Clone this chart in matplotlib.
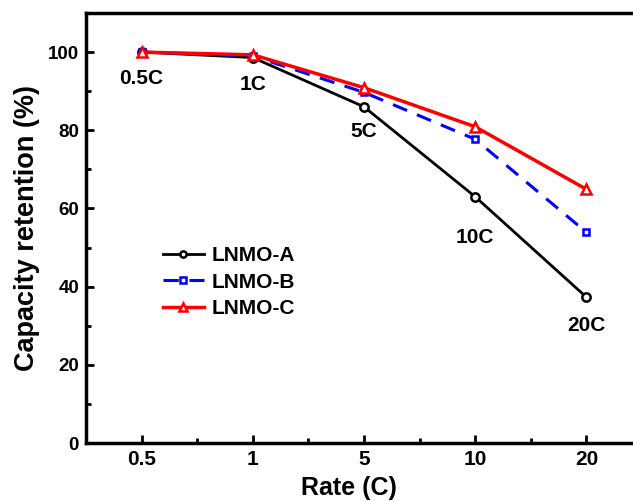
import matplotlib
matplotlib.use("Agg")
import matplotlib.pyplot as plt
from matplotlib.ticker import FixedLocator

rates = ["0.5", "1", "5", "10", "20"]
rate_labels = ["0.5C", "1C", "5C", "10C", "20C"]
lnmo_a = [100.0, 98.6, 86.0, 63.0, 37.3]
lnmo_b = [100.0, 99.0, 89.7, 77.7, 53.9]
lnmo_c = [100.0, 99.3, 90.9, 80.9, 64.9]

plt.rcParams['font.family'] = ['Liberation Sans', 'DejaVu Sans']
plt.rcParams['font.weight'] = 'bold'

fig = plt.figure(figsize=(6.33, 5.01), dpi=100)
ax = fig.add_axes([86/633, 58/501, (642-86)/633, (443-13)/501])

x = list(range(len(rates)))
ax.plot(x, lnmo_a, color='black', lw=2, marker='o', ms=6, mfc='white', mec='black', mew=1.8, label='LNMO-A', zorder=3)
ax.plot(x, lnmo_b, color='blue', lw=2.2, ls=(0, (5, 3.5)), marker='s', ms=5, mfc='white', mec='blue', mew=1.8, label='LNMO-B', zorder=3)
ax.plot(x, lnmo_c, color='red', lw=2.5, marker='^', ms=7, mfc='white', mec='red', mew=1.8, label='LNMO-C', zorder=4)

offsets = [-26, -27, -25, -41, -28]
for xi, lab, ya, off in zip(x, rate_labels, lnmo_a, offsets):
    ax.annotate(lab, (xi, ya), xytext=(0, off), textcoords='offset pixels',
                ha='center', va='center', fontsize=15, fontweight='bold')

ax.set_xlim(-0.5, 4.5)
ax.set_ylim(0, 110)
ax.set_xticks(x)
ax.set_xticklabels(rates)
ax.xaxis.set_minor_locator(FixedLocator([0.5, 1.5, 2.5, 3.5]))
ax.yaxis.set_major_locator(FixedLocator([0, 20, 40, 60, 80, 100]))
ax.yaxis.set_minor_locator(FixedLocator([10, 30, 50, 70, 90]))

for lbl in ax.get_xticklabels():
    lbl.set_fontsize(15)
    lbl.set_fontweight('bold')
for lbl in ax.get_yticklabels():
    lbl.set_fontsize(13.5)
    lbl.set_fontweight('bold')

ax.tick_params(which='both', direction='in', width=2)
ax.tick_params(which='major', length=6, pad=5)
ax.tick_params(which='minor', length=3.5)
ax.tick_params(axis='both', which='both', top=False, right=False)

for s in ['left', 'bottom', 'top']:
    ax.spines[s].set_linewidth(2.5)
ax.spines['right'].set_visible(False)

ax.set_xlabel('Rate (C)', fontsize=18, fontweight='bold', labelpad=5)
ax.xaxis.label.set_x(0.473)
ax.set_ylabel('Capacity retention (%)', fontsize=19.5, fontweight='bold', labelpad=6)

leg = ax.legend(loc='upper left', bbox_to_anchor=(0.1376, 0.458), frameon=False,
                handlelength=2.0, handletextpad=0.35, labelspacing=0.37,
                markerscale=0.75, borderaxespad=0, borderpad=0,
                prop={'weight': 'bold', 'size': 15})

fig.savefig('out.png', dpi=100)
